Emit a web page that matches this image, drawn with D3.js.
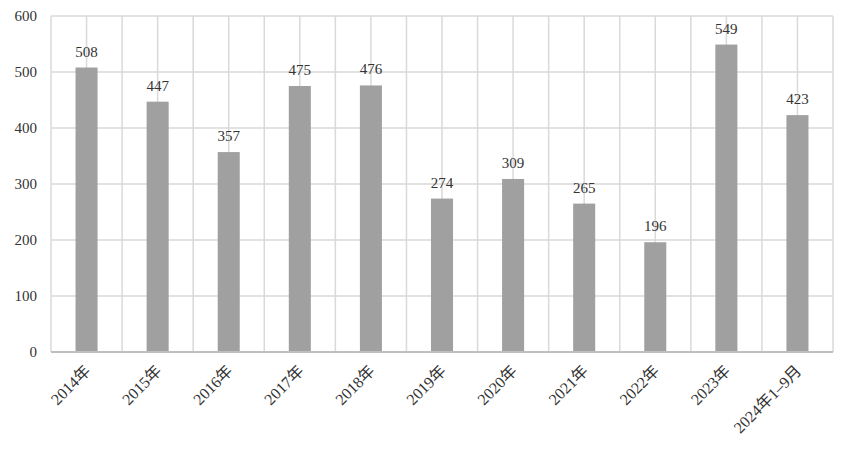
<!DOCTYPE html>
<html><head><meta charset="utf-8">
<script src="https://cdn.jsdelivr.net/npm/d3@7"></script>
<style>body{margin:0;background:#fff}svg text{font-family:"Liberation Serif","Times New Roman","Noto Sans CJK SC",serif;fill:#333}</style>
</head><body>
<svg id="c" width="846" height="450"></svg>
<script>
const categories=["2014年","2015年","2016年","2017年","2018年","2019年","2020年","2021年","2022年","2023年","2024年1–9月"];
const values=[508,447,357,475,476,274,309,265,196,549,423];
const yTicks=[0,100,200,300,400,500,600];

const svg=d3.select("#c");
const L=51,R=833,T=16,B=352;
const x=d3.scaleBand().domain(categories).range([L,R]).paddingInner(0.69).paddingOuter(0.345);
const xb=d3.scaleBand().domain(categories).range([L,R]);
const y=d3.scaleLinear().domain([0,600]).range([B,T]);

const g=svg.append("g");
// horizontal grid
g.selectAll(".hg").data(yTicks.filter(d=>d>0)).join("line")
 .attr("x1",L).attr("x2",R).attr("y1",d=>y(d)).attr("y2",d=>y(d))
 .attr("stroke","#d9d9d9").attr("stroke-width",1.5);
// vertical grid at boundaries and centers
const vx=[];
categories.forEach(c=>{vx.push(xb(c));vx.push(xb(c)+xb.bandwidth()/2);});
vx.push(R);
g.selectAll(".vg").data(vx).join("line")
 .attr("x1",d=>d).attr("x2",d=>d).attr("y1",T).attr("y2",B)
 .attr("stroke","#d9d9d9").attr("stroke-width",1.5);

// bars
g.selectAll(".bar").data(values).join("rect")
 .attr("x",(d,i)=>x(categories[i])).attr("width",x.bandwidth())
 .attr("y",d=>y(d)).attr("height",d=>B-y(d)).attr("fill","#a0a0a0");

// axis baseline
g.append("line").attr("x1",L).attr("x2",R).attr("y1",B).attr("y2",B).attr("stroke","#bfbfbf").attr("stroke-width",2);

// value labels
g.selectAll(".vl").data(values).join("text")
 .attr("x",(d,i)=>x(categories[i])+x.bandwidth()/2).attr("y",d=>y(d)-11)
 .attr("text-anchor","middle").attr("font-size",15).text(d=>d);

// y labels
g.selectAll(".yl").data(yTicks).join("text")
 .attr("x",37).attr("y",d=>y(d)+5).attr("text-anchor","end").attr("font-size",15).text(d=>d);

// x labels
g.selectAll(".xl").data(categories).join("text")
 .attr("transform",c=>`translate(${x(c)+x.bandwidth()/2+1},${B+16}) rotate(-45)`)
 .attr("text-anchor","end").attr("dy","0.35em").attr("font-size",16).text(d=>d);
</script>
</body></html>
